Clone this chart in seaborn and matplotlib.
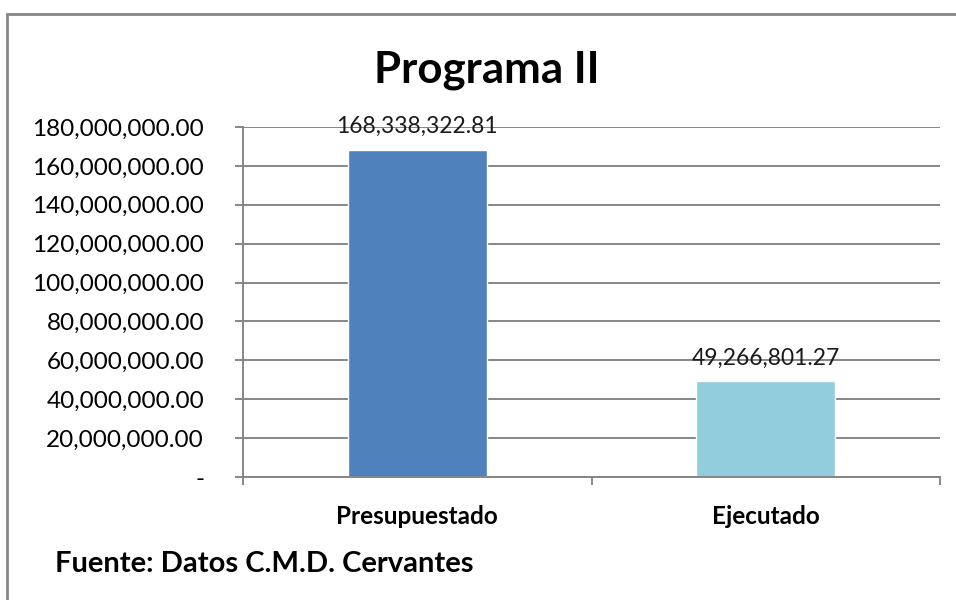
import matplotlib
matplotlib.use('Agg')
import matplotlib.pyplot as plt
import matplotlib.ticker as mticker
from matplotlib.patches import Rectangle
import seaborn as sns

# datos
categorias = ['Presupuestado', 'Ejecutado']
montos = [168338322.81, 49266801.27]
colores = ['#4F81BD', '#92CDDC']
ticks_y = [0, 20000000, 40000000, 60000000, 80000000, 100000000,
           120000000, 140000000, 160000000, 180000000]

sns.set_style('white')
plt.rcParams['font.family'] = ['Lato', 'DejaVu Sans']
plt.rcParams['text.color'] = 'black'
plt.rcParams['xtick.labelcolor'] = 'black'
plt.rcParams['ytick.labelcolor'] = 'black'

fig = plt.figure(figsize=(9.56, 6), dpi=100)
ax = fig.add_axes([243/956, 1-477/600, (940-243)/956, (477-127)/600])

sns.barplot(x=categorias, y=montos, hue=categorias, palette=colores,
            saturation=1, width=0.4, legend=False, ax=ax)

ax.set_xlim(-0.5, 1.5)
ax.set_ylim(0, 180000000)
ax.set_yticks(ticks_y)
ax.yaxis.set_major_formatter(mticker.FuncFormatter(
    lambda v, p: '-' if v == 0 else f'{v:,.2f}'))
ax.grid(axis='y', color='#868686', lw=1.4)
ax.set_axisbelow(True)
for s in ['top', 'right']:
    ax.spines[s].set_visible(False)
for s in ['left', 'bottom']:
    ax.spines[s].set_color('#868686')
    ax.spines[s].set_linewidth(1.4)

ax.tick_params(axis='y', left=True, length=6, width=1.4, color='#868686',
               labelsize=17.5, pad=22)
ax.set_xticks([-0.5, 0.5, 1.5], minor=True)
ax.tick_params(axis='x', which='major', length=0, labelsize=17.5, pad=20)
ax.tick_params(axis='x', which='minor', bottom=True, length=6, width=1.4,
               color='#868686')
for lbl in ax.get_xticklabels():
    lbl.set_fontweight('bold')
ax.set_xlabel('')
ax.set_ylabel('')

for i, v in enumerate(montos):
    ax.text(i, v + 8500000, f'{v:,.2f}', ha='center', va='baseline',
            fontsize=16.4, color='#1a1a1a')

fig.text(487/956, 1-83/600, 'Programa II', ha='center', va='baseline',
         fontsize=31.5, fontweight='bold')
fig.text(55/956, 1-572/600, 'Fuente: Datos C.M.D. Cervantes', ha='left',
         va='baseline', fontsize=21, fontweight='bold')

fig.patches.append(Rectangle((7/956, -0.1), 1.2, 1-14/600+0.1,
                             transform=fig.transFigure, fill=False,
                             edgecolor='#868686', lw=2))

fig.savefig('out.png', dpi=100)
